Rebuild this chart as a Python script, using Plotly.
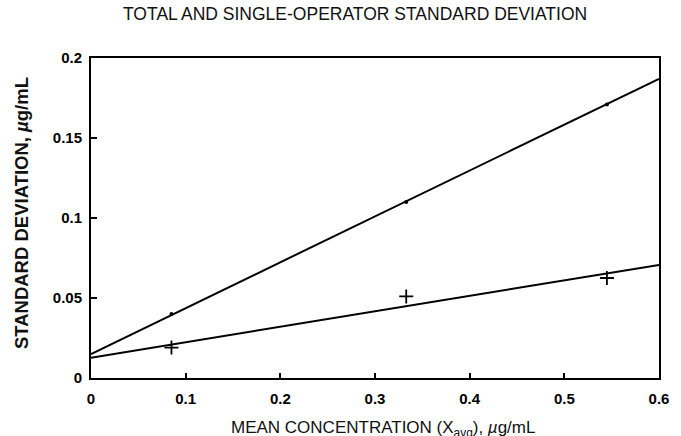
import plotly.graph_objects as go

# data
conc = [0.085, 0.333, 0.545]
total_sd = [0.040, 0.110, 0.171]
single_sd = [0.019, 0.051, 0.0625]
fit_x = [0.0, 0.6]
total_fit = [0.015, 0.187]
single_fit = [0.0127, 0.0707]
x_ticks = [0, 0.1, 0.2, 0.3, 0.4, 0.5, 0.6]
x_ticklabels = ["0", "0.1", "0.2", "0.3", "0.4", "0.5", "0.6"]
y_ticks = [0, 0.05, 0.1, 0.15, 0.2]
y_ticklabels = ["0", "0.05", "0.1", "0.15", "0.2"]

W, H = 681, 436
L, R, T, B = 91, 668, 58, 378
PW, PH = R - L, B - T

fig = go.Figure()
fig.add_trace(go.Scatter(x=fit_x, y=total_fit, mode="lines",
                         line=dict(color="black", width=2), showlegend=False))
fig.add_trace(go.Scatter(x=fit_x, y=single_fit, mode="lines",
                         line=dict(color="black", width=2), showlegend=False))
fig.add_trace(go.Scatter(x=conc, y=total_sd, mode="markers",
                         marker=dict(color="black", size=4, symbol="circle"), showlegend=False))
fig.add_trace(go.Scatter(x=conc, y=single_sd, mode="markers",
                         marker=dict(color="black", size=10, symbol="cross-thin",
                                     line=dict(color="black", width=1.8)), showlegend=False))

FONT = "Liberation Sans, Arial, sans-serif"
tickfont = dict(family=FONT, size=15, color="black", weight="bold")

fig.update_layout(
    width=W, height=H,
    margin=dict(l=L, r=W - R, t=T, b=H - B),
    plot_bgcolor="white", paper_bgcolor="white",
    xaxis=dict(range=[0, 0.6], tickvals=x_ticks, ticktext=x_ticklabels,
               showgrid=False, zeroline=False, showline=True, linecolor="black", linewidth=2,
               mirror=True, ticks="inside", ticklen=5, tickwidth=1.5, tickcolor="black",
               tickfont=tickfont, ticklabelstandoff=6, ticklabeloverflow="allow"),
    yaxis=dict(range=[0, 0.2], tickvals=y_ticks, ticktext=y_ticklabels,
               showgrid=False, zeroline=False, showline=True, linecolor="black", linewidth=2,
               mirror=True, ticks="inside", ticklen=6, tickwidth=1.5, tickcolor="black",
               tickfont=tickfont, ticklabelstandoff=4),
    annotations=[
        dict(text="TOTAL AND SINGLE-OPERATOR STANDARD DEVIATION", xref="paper", yref="paper",
             x=(359 - L) / PW, y=1 + (T - 14) / PH, xanchor="center", yanchor="middle",
             showarrow=False, font=dict(family=FONT, size=17.5, color="#111")),
        dict(text="STANDARD DEVIATION, <i>µ</i>g/mL", xref="paper", yref="paper",
             x=-(L - 20) / PW, y=(B - 213) / PH, xanchor="center", yanchor="middle", textangle=-90,
             showarrow=False, font=dict(family=FONT, size=18.5, color="#111", weight="bold")),
        dict(text="MEAN CONCENTRATION (X<sub>avg</sub>), <i>µ</i>g/mL", xref="paper", yref="paper",
             x=(388 - L) / PW, y=-(416 - B) / PH, xanchor="center", yanchor="top",
             showarrow=False, font=dict(family=FONT, size=17, color="#111")),
    ],
)

fig.write_html("out.html", config={"displayModeBar": False},
               post_script="document.body.style.margin='0';")
